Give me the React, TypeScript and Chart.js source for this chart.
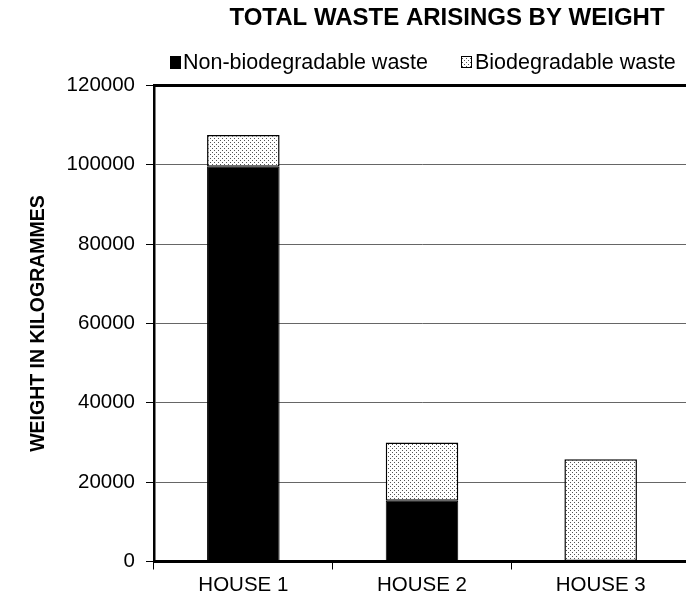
import { useEffect, useRef } from 'react';
import { Chart, registerables } from 'chart.js';

Chart.register(...registerables);

const categories = ['HOUSE 1', 'HOUSE 2', 'HOUSE 3'];
const nonBiodegradable = [99500, 15300, 0];
const biodegradable = [8000, 14700, 25800];
const yMin = 0;
const yMax = 120000;
const yStep = 20000;
const seriesNames = ['Non-biodegradable waste', 'Biodegradable waste'];
const chartTitle = 'TOTAL WASTE ARISINGS BY WEIGHT';
const yAxisTitle = 'WEIGHT IN KILOGRAMMES';

const FONT = '"Liberation Sans", Arial, Helvetica, sans-serif';

// Small dotted fill used for the biodegradable series
function makeDots(): CanvasPattern | string {
  const c = document.createElement('canvas');
  c.width = 4;
  c.height = 4;
  const g = c.getContext('2d');
  if (!g) return '#ddd';
  g.fillStyle = '#ffffff';
  g.fillRect(0, 0, 4, 4);
  g.fillStyle = '#555555';
  g.fillRect(0, 0, 1, 1);
  g.fillRect(2, 2, 1, 1);
  return g.createPattern(c, 'repeat') || '#ddd';
}

export default function App() {
  const canvasRef = useRef<HTMLCanvasElement | null>(null);

  useEffect(() => {
    const canvas = canvasRef.current;
    if (!canvas) return;
    const dots = makeDots();

    // Title, legend, axis title and the frame's top/right edges
    const decorations = {
      id: 'decorations',
      afterDraw(chart: any) {
        const { ctx, chartArea: a } = chart;
        ctx.save();
        ctx.strokeStyle = '#000';
        ctx.lineWidth = 3;
        ctx.beginPath();
        ctx.moveTo(a.left, a.top);
        ctx.lineTo(a.right, a.top);
        ctx.lineTo(a.right, a.bottom);
        ctx.stroke();

        ctx.fillStyle = '#000';
        ctx.textAlign = 'center';
        ctx.textBaseline = 'middle';
        ctx.font = `bold 24px ${FONT}`;
        ctx.fillText(chartTitle, 447, 18);

        // legend
        ctx.textAlign = 'left';
        ctx.font = `21.5px ${FONT}`;
        ctx.fillStyle = '#000';
        ctx.fillRect(170, 56, 11, 13);
        ctx.fillText(seriesNames[0], 183, 63);
        ctx.fillStyle = dots;
        ctx.fillRect(461, 56, 11, 12);
        ctx.strokeStyle = '#000';
        ctx.lineWidth = 1;
        ctx.strokeRect(461.5, 56.5, 10, 11);
        ctx.fillStyle = '#000';
        ctx.fillText(seriesNames[1], 475, 63);

        // rotated y-axis title
        ctx.translate(39, (a.top + a.bottom) / 2);
        ctx.rotate(-Math.PI / 2);
        ctx.textAlign = 'center';
        ctx.font = `bold 19.5px ${FONT}`;
        ctx.fillText(yAxisTitle, 0, 0);
        ctx.restore();
      },
    };

    const chart = new Chart(canvas, {
      type: 'bar',
      data: {
        labels: categories,
        datasets: [
          {
            label: seriesNames[0],
            data: nonBiodegradable,
            backgroundColor: '#000',
            borderColor: '#000',
            borderWidth: 1,
            borderSkipped: false,
          },
          {
            label: seriesNames[1],
            data: biodegradable,
            backgroundColor: dots as any,
            borderColor: '#000',
            borderWidth: 1.5,
            borderSkipped: false,
          },
        ],
      },
      options: {
        responsive: false,
        animation: false,
        layout: { padding: { top: 85.5, right: 10, left: 0, bottom: 0 } },
        datasets: { bar: { barPercentage: 0.406, categoryPercentage: 1 } },
        plugins: {
          legend: { display: false },
          title: { display: false },
          tooltip: { enabled: false },
        },
        scales: {
          x: {
            stacked: true,
            afterFit: (s: any) => {
              s.height = 39.5;
            },
            grid: {
              offset: true,
              drawOnChartArea: false,
              drawTicks: true,
              tickLength: 8,
              color: '#000',
              lineWidth: 1,
            },
            border: { color: '#000', width: 3 },
            ticks: {
              color: '#000',
              padding: 4,
              font: { family: FONT, size: 20.5 },
            },
          },
          y: {
            stacked: true,
            min: yMin,
            max: yMax,
            afterFit: (s: any) => {
              s.width = 154;
            },
            grid: {
              color: '#666',
              lineWidth: 1,
              tickColor: '#000',
              tickLength: 8,
            },
            border: { color: '#000', width: 2.5 },
            ticks: {
              stepSize: yStep,
              color: '#000',
              padding: 11,
              font: { family: FONT, size: 20.5 },
              callback: (v: any) => String(v),
            },
          },
        },
      },
      plugins: [decorations],
    });

    return () => chart.destroy();
  }, []);

  return (
    <div style={{ position: 'fixed', left: 0, top: 0, width: 700, height: 601, background: '#fff' }}>
      <canvas ref={canvasRef} width={700} height={601} />
    </div>
  );
}
